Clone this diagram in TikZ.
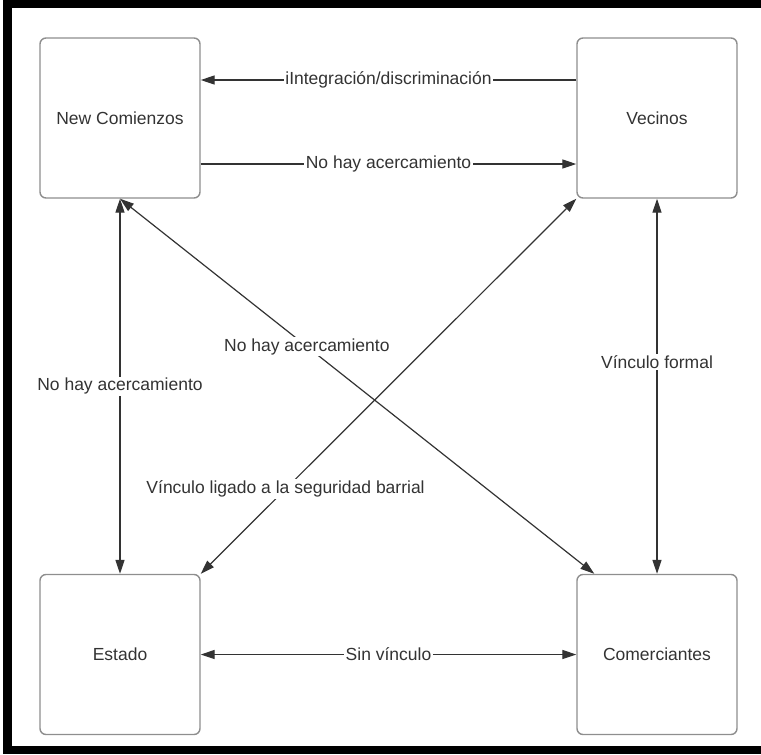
\documentclass[tikz,border=0pt]{standalone}
\usepackage{fontspec}
\setmainfont{Liberation Sans}
\usepackage{xcolor}
\usetikzlibrary{arrows.meta}
\definecolor{boxgray}{HTML}{8E8E8E}
\definecolor{inkgray}{HTML}{333333}

\begin{document}
\begin{tikzpicture}[x=1pt,y=-1pt,>={Triangle[length=14pt,width=9pt]},
  font=\fontsize{17.5}{21}\selectfont,
  actor/.style={draw=boxgray,line width=1.4pt,rounded corners=6pt,minimum width=160pt,minimum height=160pt,inner sep=0pt,text=inkgray},
  link/.style={inkgray,line width=1.2pt},
  lbl/.style={fill=white,text=inkgray,inner sep=1.5pt}]
  \clip (0,0) rectangle (761,755);
  % --- Rahmen ---
  \draw[line width=8.5pt] (7.5,4) rectangle (790,750);
  % --- Akteure ---
  \node[actor] (nc) at (120,118) {New Comienzos};
  \node[actor] (vecinos) at (657,118) {Vecinos};
  \node[actor] (estado) at (120,654.5) {Estado};
  \node[actor] (comerciantes) at (657,654.5) {Comerciantes};
  % --- Beziehungen oben ---
  \draw[link,->] ([yshift=38pt]vecinos.west) -- ([yshift=38pt]nc.east) node[lbl,midway] (l1) {iIntegración/discriminación};
  \draw[link,->] ([yshift=-46pt]nc.east) -- ([yshift=-46pt]vecinos.west) node[lbl,midway] (l2) {No hay acercamiento};
  % --- Beziehungen senkrecht ---
  \draw[link,<->] (nc.south) -- (estado.north) node[lbl,midway] (l3) {No hay acercamiento};
  \draw[link,<->] (vecinos.south) -- (comerciantes.north) node[lbl,pos=0.435] (l4) {Vínculo formal};
  % --- Diagonalen ---
  \draw[link,<->] (nc.south) -- ([xshift=18pt]comerciantes.north west) node[lbl,pos=0.394] (l5) {No hay acercamiento};
  \draw[link,<->] (estado.north east) -- (vecinos.south west) node[lbl,pos=0.226] (l6) {Vínculo ligado a la seguridad barrial};
  % --- Beziehung unten ---
  \draw[link,<->] (estado.east) -- (comerciantes.west) node[lbl,midway] (l7) {Sin vínculo};
\end{tikzpicture}
\end{document}
